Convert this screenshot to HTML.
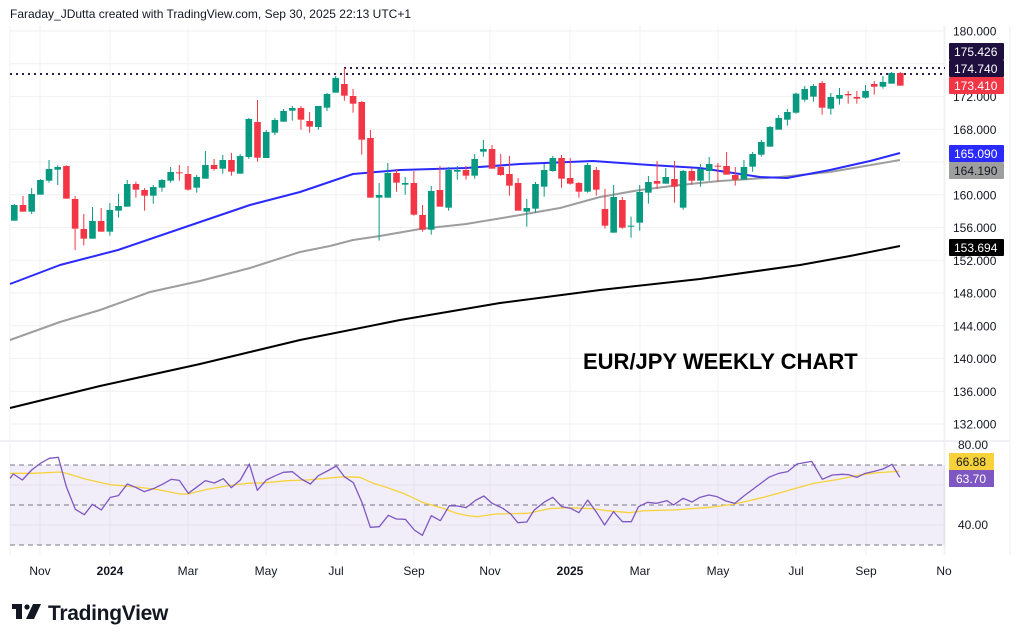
<!DOCTYPE html>
<html><head><meta charset="utf-8"><style>
html,body{margin:0;padding:0;background:#fff;width:1020px;height:643px;overflow:hidden;font-family:"Liberation Sans",sans-serif;}
svg{position:absolute;left:0;top:0}
</style></head><body>
<svg id="s" width="1020" height="643" xmlns="http://www.w3.org/2000/svg" font-family="Liberation Sans, sans-serif">
<text x="10" y="18" font-size="12" fill="#131722">Faraday_JDutta created with TradingView.com, Sep 30, 2025 22:13 UTC+1</text>
<g id="grid"></g>
<rect x="10" y="465" width="935" height="80" fill="#7e57c2" fill-opacity="0.1"/>
<g id="main"></g>
<text x="583" y="369" font-size="22" font-weight="bold" fill="#000">EUR/JPY WEEKLY CHART</text>
<g id="axis" font-size="12" fill="#131722"></g>
<g transform="translate(12,604)"><rect x="0" y="0" width="10" height="5" fill="#131722"/><rect x="4" y="0" width="6" height="15" fill="#131722"/><circle cx="15" cy="3" r="2.6" fill="#131722"/><polygon points="21,0 29,0 22,15 14,15" fill="#131722"/></g>
<text x="48" y="620" font-size="21" font-weight="bold" fill="#131722" letter-spacing="-0.3">TradingView</text>
</svg>
<script>
var NS="http://www.w3.org/2000/svg";
function el(p,t,a,txt){var e=document.createElementNS(NS,t);for(var k in a)e.setAttribute(k,a[k]);if(txt!==undefined)e.textContent=txt;document.getElementById(p).appendChild(e);return e;}
function Y(p){return 31+(180-p)*8.1875;}
// grid
var prices=[180,176,172,168,164,160,156,152,148,144,140,136,132];
prices.forEach(function(p){el("grid","line",{x1:10,x2:945,y1:Y(p),y2:Y(p),stroke:"#f0f1f3","stroke-width":1});});
[485,525].forEach(function(y){el("grid","line",{x1:10,x2:945,y1:y,y2:y,stroke:"#f0f1f3"});});
var xs=[40,110,188,266,336,414,490,570,640,718,796,866,944];
var xl=["Nov","2024","Mar","May","Jul","Sep","Nov","2025","Mar","May","Jul","Sep","No"];
xs.forEach(function(x){el("grid","line",{x1:x,x2:x,y1:26,y2:555,stroke:"#f0f1f3"});});
el("grid","line",{x1:0,x2:1010,y1:441,y2:441,stroke:"#e0e3eb"});
el("grid","line",{x1:945,x2:945,y1:26,y2:555,stroke:"#f0f1f3"});
el("grid","line",{x1:1010,x2:1010,y1:26,y2:555,stroke:"#eceef2"});
el("grid","line",{x1:10,x2:10,y1:26,y2:555,stroke:"#f0f1f3"});
// RSI dashed
[465,505,545].forEach(function(y){el("grid","line",{x1:10,x2:945,y1:y,y2:y,stroke:"#787b86","stroke-dasharray":"5,4","stroke-width":1});});
// MAs
function pl(pts,c,w){el("main","polyline",{points:pts.map(function(p){return p.join(",")}).join(" "),fill:"none",stroke:c,"stroke-width":w,"stroke-linejoin":"round"});}
pl([[10,408],[100,386],[200,364],[300,340],[400,320],[500,303],[600,290],[700,279],[800,265],[850,256],[900,246]],"#000",2);
pl([[10,340],[60,322],[100,310],[150,292],[200,281],[250,268],[300,252],[330,246],[353,240],[380,236],[420,229],[466,224],[520,215],[560,208],[600,197],[640,190],[680,185],[720,181],[780,177],[830,172],[900,160]],"#9e9e9e",2);
pl([[10,284],[60,265],[118,250],[200,222],[250,205],[300,192],[353,174],[400,170],[466,168],[520,164],[593,161],[650,165],[700,168],[760,177],[787,178],[830,170],[870,161],[900,153]],"#2a2aff",2);
// dotted
el("main","line",{x1:10,x2:945,y1:74,y2:74,stroke:"#2c1f4f","stroke-dasharray":"2,4","stroke-width":2});
el("main","line",{x1:344,x2:945,y1:68,y2:68,stroke:"#2c1f4f","stroke-dasharray":"2,4","stroke-width":2});
// candles: [bt,bb,wt,wb,green]
var c1=[[435,482,432,482,1],[435,455,408,455,0],[402,455,384,462,1],[360,404,357,404,1],[327,362,300,368,1],[321,329,316,375,1],[318,416,316,416,0],[417,506,408,570,0],[507,536,462,556,0],[483,536,441,536,1],[483,515,444,515,0],[450,515,429,527,1],[438,452,402,473,1],[372,440,360,440,1],[372,389,365,413,0],[390,407,384,452,0],[381,407,375,431,1],[360,383,357,395,1],[336,362,321,368,1],[337,339,315,362,0],[342,389,318,392,0],[351,383,345,398,1],[315,356,273,356,1],[315,327,297,332,0],[300,326,285,341,1],[300,335,279,347,0],[288,341,282,341,1],[177,291,174,297,1],[186,293,120,305,0],[216,294,210,294,1],[180,218,174,225,1],[153,185,147,185,1],[144,152,138,182,1],[144,179,138,209,0],[183,200,156,218,0],[138,201,138,209,1],[102,143,99,153,1],[54,98,48,98,1],[72,107,24,122,0],[108,131,87,158,0],[126,239,123,284,0],[234,413,210,413,0],[405,413,369,542,1],[339,413,309,413,1],[339,368,327,395,0],[369,374,351,404,1],[369,464,333,467,0],[465,509,435,515,0],[393,509,378,524,1],[390,440,318,440,0],[330,443,321,452,1],[330,335,318,359,1],
[330,347,318,359,0],[297,347,282,356,1],[267,275,240,290,1],[267,326,255,326,0],[321,345,282,347,0],[342,377,288,407,0],[369,452,354,452,0],[444,455,417,500,1],[372,446,366,458,1],[330,380,312,410,1],[294,333,288,335,1],[294,356,285,383,0],[354,371,294,374,0],[369,395,366,413,0],[315,395,309,398,1],[330,389,321,407,0],[447,497,387,506,0],[411,518,375,518,1],[420,503,411,506,0],[497,499,470,533,1],[396,488,375,512,1],[366,398,348,431,1],[363,371,303,386,0],[351,371,324,371,1],[357,380,303,428,0],[333,443,330,449,1],[333,362,324,374,0],[327,362,312,380,1],[312,333,291,362,1],[317,319,309,365,0],[318,344,276,344,0],[345,359,321,377,0],[321,359,300,359,1],[282,320,276,335,1],[246,284,240,290,1],[201,260,198,260,1],[174,209,165,209,1],[156,179,147,197,1],[101,158,98,161,1],[87,119,78,125,1],[78,110,72,125,1],[69,143,63,164,0],[111,146,99,164,1],[105,116,84,134,1],[102,106,93,131,0],[111,116,93,131,0],[93,113,75,116,1],[72,80,63,104,0],[66,80,48,86,1],[39,71,36,71,1],[39,77,36,77,0]];
var n=c1.length, sp=(900.3-14.3)/(n-1);
c1.forEach(function(c,i){var x=14.3+i*sp;var col=c[4]?"#089981":"#f23645";
var bt=60+c[0]/3,bb=60+c[1]/3,wt=60+c[2]/3,wb=60+c[3]/3;
el("main","line",{x1:x,x2:x,y1:wt,y2:wb,stroke:col,"stroke-width":1});
el("main","rect",{x:x-3.3,y:bt,width:6.6,height:Math.max(1,bb-bt),fill:col});});
// RSI
function rs(pts,ox,sx){return pts.map(function(p){return [ox+p[0]*sx,440+p[1]/3];});}
var ry1=rs([[30,100],[100,100],[180,96],[200,100],[260,118],[330,134],[400,140],[470,148],[540,162],[565,162],[620,148],[680,138],[740,130],[800,128],[860,122],[920,120],[980,115],[1030,110],[1080,112],[1120,130],[1160,142],[1210,160],[1270,188],[1330,205],[1370,220],[1410,228]],0,1/3);
var ry2=rs([[50,230],[100,222],[190,220],[250,206],[300,203],[370,206],[410,212],[475,218],[520,212],[600,210],[700,202],[770,192],[850,172],[940,145],[990,130],[1060,118],[1120,105],[1170,98],[1230,94]],460,0.357);
pl(ry1.concat(ry2),"#f7d23a",1.3);
var rp1=rs([[30,115],[40,102],[67,120],[95,90],[121,70],[148,55],[175,52],[199,140],[226,208],[253,224],[277,193],[304,210],[331,172],[355,167],[382,132],[409,143],[433,155],[460,146],[487,133],[514,118],[538,121],[565,160],[592,140],[616,122],[643,129],[670,116],[694,143],[721,120],[748,72],[772,151],[799,120],[826,107],[850,97],[877,95],[904,117],[931,132],[955,107],[982,93],[1009,78],[1033,110],[1060,128],[1087,190],[1111,262],[1138,260],[1165,226],[1189,237],[1216,238],[1243,270],[1267,286],[1294,227],[1321,242],[1348,197],[1372,198],[1399,203]],0,1/3);
var rp2=rs([[18,202],[45,180],[67,168],[90,190],[120,205],[142,222],[162,248],[187,246],[208,210],[235,187],[260,172],[285,200],[310,205],[333,218],[358,180],[383,218],[405,255],[430,215],[455,245],[480,245],[500,200],[525,187],[550,190],[580,182],[598,195],[625,175],[650,186],[672,172],[697,165],[720,170],[745,183],[770,190],[795,168],[820,148],[865,112],[893,100],[918,95],[944,72],[985,64],[1015,118],[1043,105],[1070,103],[1088,104],[1112,112],[1135,100],[1160,94],[1185,87],[1210,73],[1232,112]],460,0.357);
pl(rp1.concat(rp2),"#7e57c2",1.3);
// axis labels
prices.forEach(function(p){if(p==176||p==164)return;el("axis","text",{x:953,y:Y(p)+4.5},p.toFixed(3));});
el("axis","text",{x:958,y:449},"80.00");
el("axis","text",{x:958,y:529},"40.00");
function lab(y,h,bg,fg,t){el("axis","rect",{x:949,y:y,width:55,height:h,fill:bg,rx:1});el("axis","text",{x:954,y:y+h/2+4.5,fill:fg},t);}
lab(43,17,"#1e0f3f","#fff","175.426");lab(60,17,"#1e0f3f","#fff","174.740");
lab(77,17,"#f23645","#fff","173.410");
lab(145,17,"#2a2aff","#fff","165.090");lab(162,17,"#9e9e9e","#131722","164.190");
lab(239,17,"#000","#fff","153.694");
el("axis","rect",{x:949,y:453,width:45,height:17,fill:"#f7d23a"});el("axis","text",{x:956,y:466,fill:"#131722"},"66.88");
el("axis","rect",{x:949,y:470,width:45,height:17,fill:"#7e57c2"});el("axis","text",{x:956,y:483,fill:"#fff"},"63.70");
xs.forEach(function(x,i){var b=(xl[i]=="2024"||xl[i]=="2025");el("axis","text",{x:x,y:575,"text-anchor":"middle","font-weight":b?"bold":"normal"},xl[i]);});
</script>
</body></html>
